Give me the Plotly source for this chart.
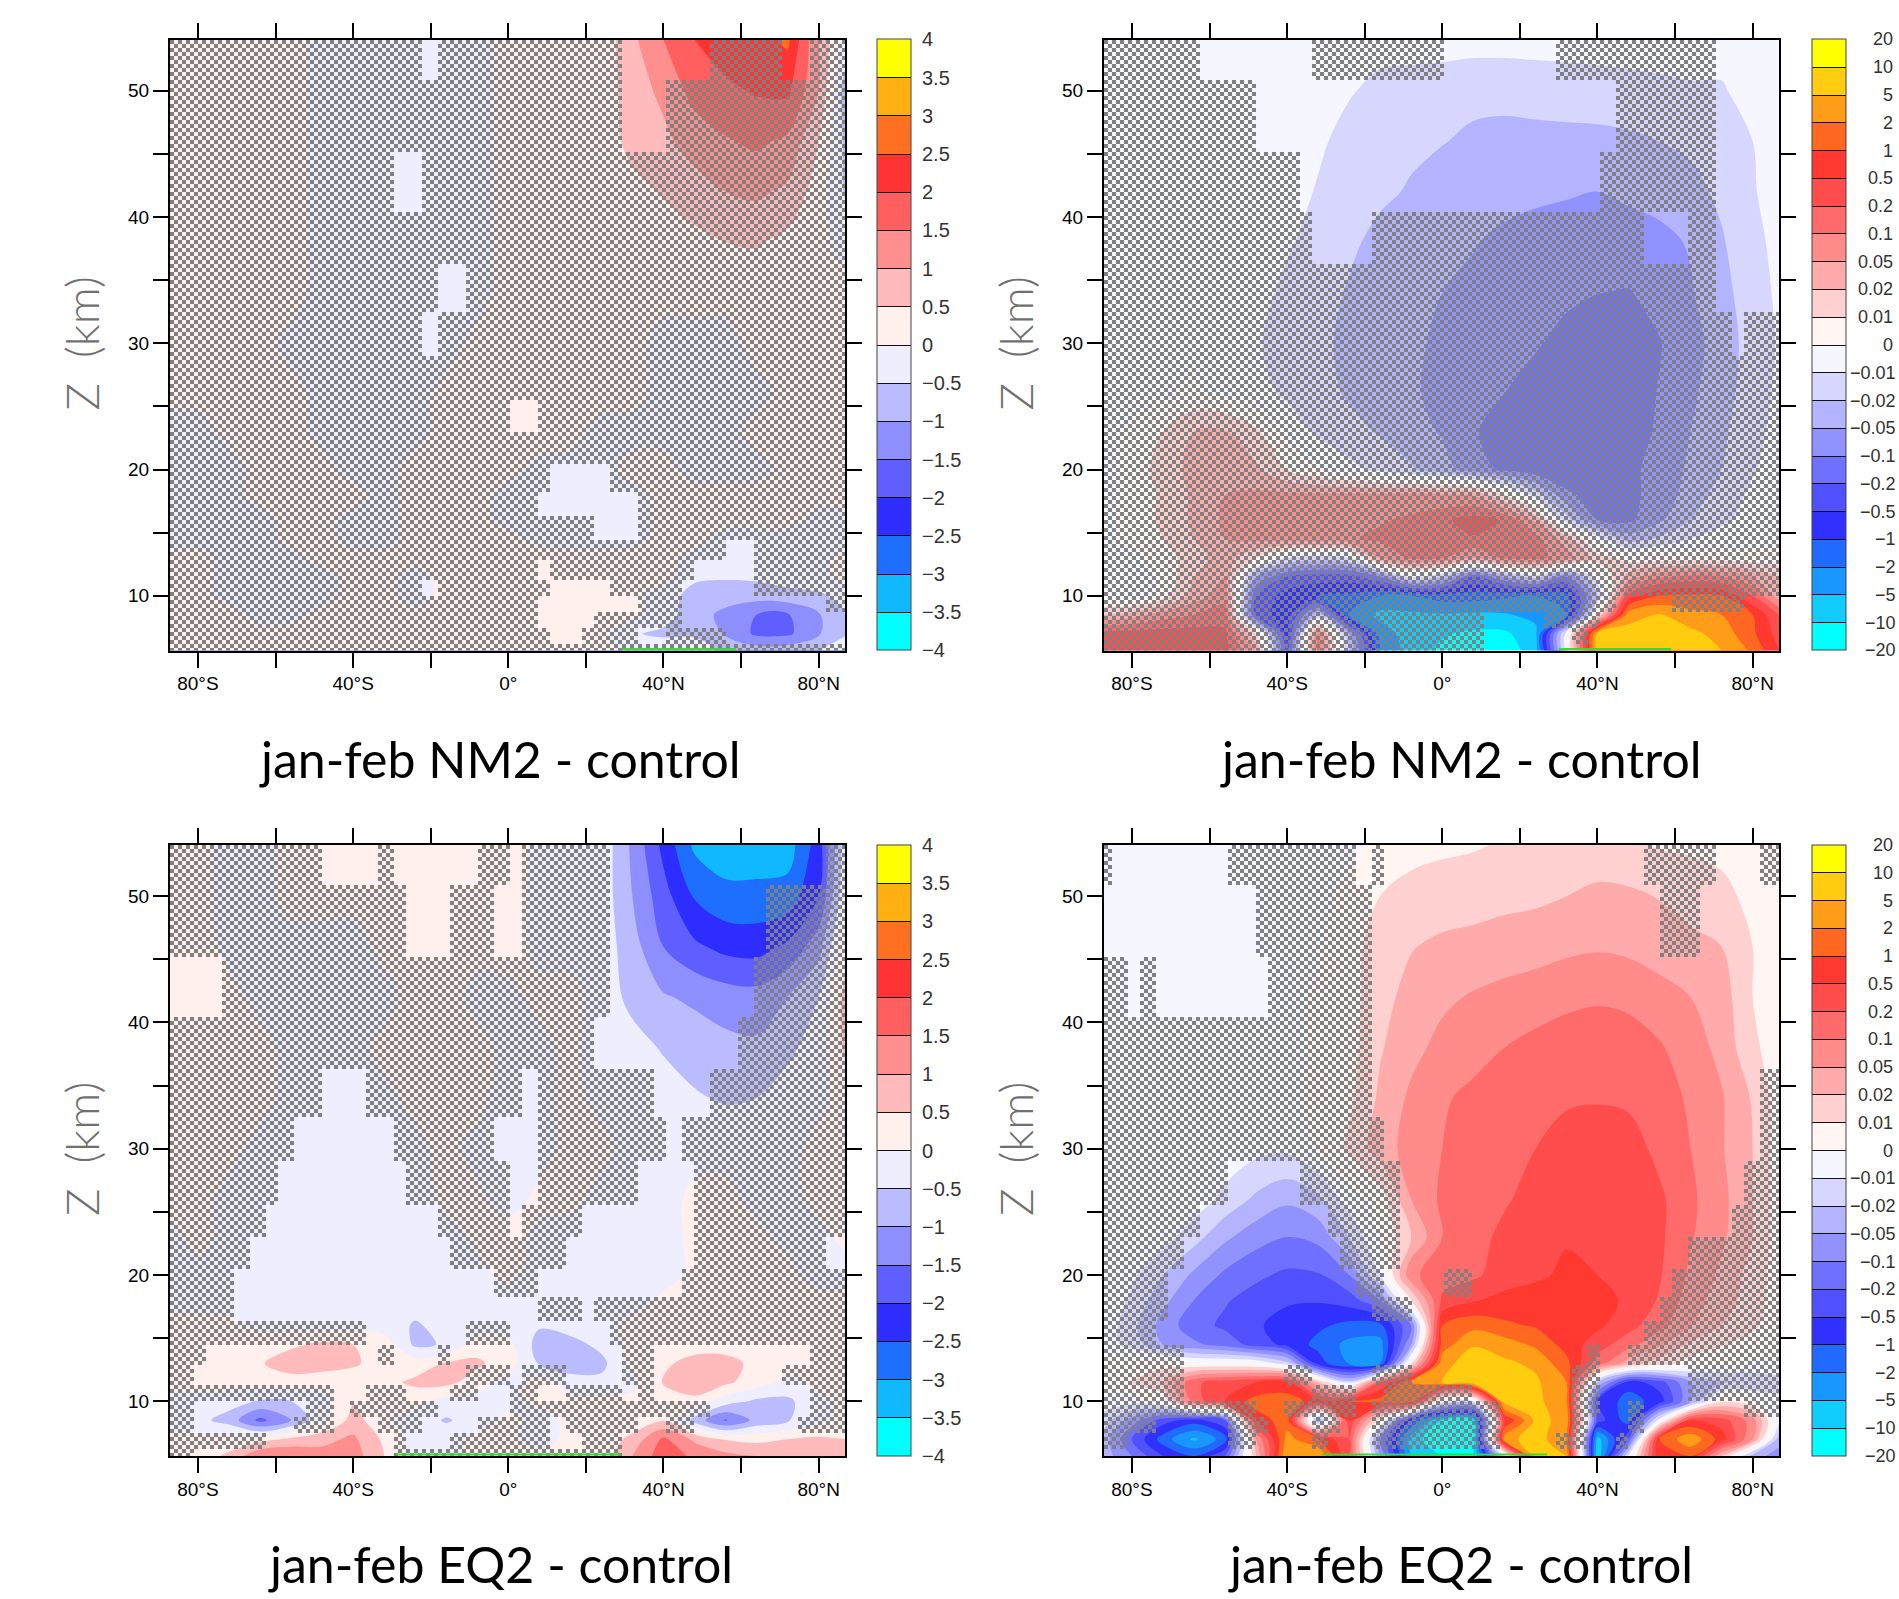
import numpy as np
import plotly.graph_objects as go

W, H = 1899, 1599
lats = [-87.2, -80, -72, -64, -56, -48, -40, -32, -24, -16, -8, 0, 8, 16, 24, 32, 40, 48, 56, 64, 72, 80, 86.8]
heights = [54.05, 50, 46, 42, 38, 34, 30, 26, 23, 20, 18, 16, 14.5, 13, 11.5, 10, 8.5, 7, 5.67]

# Fields in colour-level units (0 = zero contour, +-k = k-th labelled level), rows top to bottom
nm2_linear = [
 [.4,.4,.4,.4,.4,-.4,-.4,-.4,-.4,-.4,-.4,.4,.4,.4,.3,1.8,3.0,4.0,4.5,4.6,5.2,2.0,-.3],
 [.4,.4,.4,.4,.4,-.4,-.4,-.4,-.4,-.4,-.4,.4,.4,.4,.3,1.6,2.2,3.4,3.8,4.1,4.2,2.0,-1.5],
 [.4,.4,.4,.4,.4,-.4,-.4,-.4,-.4,-.4,-.4,.4,.4,.4,.3,1.4,1.8,2.4,2.9,3.2,2.8,1.0,-1.2],
 [.4,.4,.4,.4,.4,-.4,-.4,-.4,-.4,-.4,-.4,.4,.4,.4,.3,.6,1.1,1.6,2.0,2.2,1.8,.5,-1.1],
 [.4,.4,.4,.4,.4,-.4,-.4,-.4,-.4,-.4,-.4,.4,.4,.4,.3,.3,.4,.7,1.0,1.1,.7,.3,-.4],
 [.4,.4,.4,.4,.4,-.4,-.4,-.4,-.4,-.4,-.4,.4,.4,.4,.3,.3,.3,.3,.3,.3,.3,.3,.3],
 [.4,.4,.4,.4,-.3,-.4,-.4,-.4,-.4,-.4,.3,.4,.4,.3,.3,.3,-.3,-.3,-.3,.3,.3,.3,.3],
 [.3,.3,.3,.3,.3,-.3,-.3,-.3,-.3,.3,.3,.4,.3,.3,.3,.3,-.3,-.3,-.3,-.3,.3,.3,.3],
 [-.4,-.4,.3,.3,.3,-.3,-.3,-.3,-.3,.3,.3,.5,.5,.3,-.3,-.3,-.3,-.3,-.3,.3,.3,.3,.3],
 [-.4,-.4,-.4,.3,.3,.3,-.3,-.3,.3,.3,.3,.3,-.3,-.3,-.3,.3,.3,-.3,-.3,-.3,.3,.3,.3],
 [-.4,-.4,-.3,.3,.3,.3,.3,-.3,.3,.3,.3,-.3,-.5,-.5,-.5,-.3,.3,.3,.3,.3,.3,.3,.3],
 [-.3,-.4,-.4,-.3,.3,.3,-.3,-.3,.3,.3,.3,-.3,-.5,-.5,-.5,-.5,.3,.3,.3,.3,.3,-.3,-.3],
 [-.3,-.3,-.4,-.4,.3,.3,-.3,-.3,.3,.3,.3,.3,-.3,-.3,-.4,-.3,.3,.3,-.4,-.4,-.3,-.3,-.3],
 [.3,.3,-.3,-.3,-.3,.3,.3,.3,.3,.3,.3,.3,.5,.3,.3,.3,.3,-.3,-.5,-.5,-.3,-.3,.3],
 [.3,.3,-.3,-.3,-.3,-.3,.3,.3,-.3,.3,.3,.3,.6,.6,.3,.3,.3,-.8,-.9,-.8,-.5,-.3,.3],
 [.3,.3,-.3,-.4,-.3,-.3,.3,.3,-.4,.3,.3,.3,.6,.6,.6,.3,-.5,-1.4,-1.5,-1.6,-1.4,-1.2,-.6],
 [.3,.3,.3,-.3,-.3,.3,.3,.3,.3,.3,.3,.3,.6,.6,.3,.3,-.6,-1.5,-2.3,-3.0,-3.1,-2.1,-1.1],
 [.3,.3,.3,.3,.3,.3,.3,.3,.3,.3,.3,.3,.6,.6,.3,-.9,-1.2,-1.2,-2.1,-3.2,-3.2,-2.1,-1.1],
 [.3,.3,.3,.3,.3,.3,.3,.3,.3,.3,.3,.3,.3,.3,.3,-.3,-.3,-.3,-1.2,-1.5,-1.4,-1.0,-.5],
]
nm2_log = [
 [-.6,-.6,-.6,-.6,-.6,-.6,-.6,-.6,-.6,-.6,-.6,-.6,-.6,-.6,-.6,-.6,-.6,-.6,-.6,-.6,-.6,-.6,-.4],
 [-.5,-.5,-.5,-.5,-.5,-.5,-.5,-.6,-.9,-1.3,-1.4,-1.5,-1.7,-1.7,-1.6,-1.5,-1.4,-1.3,-1.2,-1.1,-1.1,-.6,-.4],
 [-.5,-.5,-.5,-.5,-.5,-.5,-.5,-.8,-1.4,-1.6,-1.8,-1.95,-2.2,-2.3,-2.3,-2.3,-2.3,-2.2,-2.0,-1.8,-1.4,-1.0,-.5],
 [-.5,-.5,-.5,-.5,-.5,-.5,-.5,-1.1,-1.5,-1.8,-2.1,-2.5,-2.6,-2.7,-2.8,-2.9,-3.0,-2.8,-2.6,-2.3,-1.8,-1.1,-.5],
 [-.5,-.5,-.5,-.5,-.5,-.5,-.9,-1.3,-1.8,-2.3,-2.6,-2.8,-2.95,-3.2,-3.4,-3.5,-3.6,-3.5,-3.3,-2.9,-2.1,-1.3,-.7],
 [-.3,-.3,-.3,-.3,-.4,-.7,-1.2,-1.6,-2.1,-2.5,-2.8,-3.0,-3.2,-3.4,-3.6,-3.8,-3.98,-4.05,-3.7,-3.1,-2.3,-1.5,-.8],
 [-.3,-.3,-.3,-.3,-.5,-.9,-1.4,-1.8,-2.2,-2.6,-2.9,-3.1,-3.3,-3.6,-3.9,-4.3,-4.6,-4.5,-4.05,-3.4,-2.5,-1.6,-.9],
 [-.3,-.3,-.2,.2,-.2,-.6,-1.2,-1.7,-2.1,-2.5,-2.9,-3.2,-3.6,-4.0,-4.4,-4.7,-4.8,-4.4,-3.95,-3.2,-2.4,-1.5,-.8],
 [-.3,.2,1.0,2.0,2.1,1.2,-.3,-1.2,-1.7,-2.1,-2.6,-3.1,-3.9,-4.4,-4.7,-4.8,-4.7,-4.3,-3.9,-3.0,-2.2,-1.3,-.7],
 [-.3,.3,1.5,2.3,2.6,2.2,1.0,.1,-.7,-1.3,-1.9,-2.6,-3.5,-4.2,-4.6,-4.7,-4.6,-4.2,-3.7,-2.8,-2.0,-1.1,-.5],
 [-.3,.3,1.2,2.2,3.0,3.2,3.2,3.2,3.2,3.2,3.3,3.1,2.9,1.0,-1.5,-3.8,-4.4,-4.2,-3.7,-2.5,-1.6,-.8,-.4],
 [-.3,.4,1.2,2.2,3.2,3.4,3.5,3.6,3.8,3.9,4.2,4.8,5.4,4.9,2.8,-1.5,-4.0,-4.2,-3.2,-2.0,-1.2,-.6,-.3],
 [-.3,.3,1.0,2.0,3.0,3.3,3.5,3.7,3.9,4.2,4.6,4.8,4.9,4.8,4.4,2.5,-.5,-2.5,-1.8,-1.0,-.6,-.4,-.2],
 [-.3,-.2,.5,1.6,2.5,1.0,-1.0,-1.5,-1.0,3.0,4.2,4.1,3.0,4.2,4.3,3.5,1.5,.6,.4,.5,.5,.4,.3],
 [-.3,-.5,.2,2.0,3.0,-3.0,-5.0,-5.5,-5.5,-4.0,-.8,-2.0,-5.0,-3.0,-1.5,-4.0,-.5,2.5,3.8,4.3,4.0,3.0,2.0],
 [-.3,-.8,.5,2.5,3.6,-5.0,-6.5,-7.0,-7.2,-8.0,-8.0,-7.5,-7.5,-7.8,-8.0,-7.5,-2.0,5.5,7.0,7.2,7.0,5.0,2.5],
 [2.0,2.5,3.5,4.0,4.5,-5.5,-6.5,-2.0,-8.0,-9.3,-9.2,-9.1,-9.2,-9.1,-8.7,-8.0,1.0,8.5,9.1,8.3,8.0,7.0,5.0],
 [5.5,5.5,5.5,5.5,5.2,1.0,-6.5,4.0,-3.0,-8.5,-9.5,-9.9,-10.2,-10.2,-9.3,-.5,9.2,9.5,9.4,9.3,8.6,7.2,5.6],
 [5.5,5.5,5.5,5.5,5.3,3.0,-5.5,4.5,-2.0,-8.0,-9.5,-10.2,-10.7,-10.6,-9.5,-.5,9.5,9.7,9.6,9.4,9.0,7.8,6.0],
]
eq2_linear = [
 [.4,.4,-.4,-.4,.3,.6,.6,.4,.6,.6,.5,.6,-.3,-.3,-.3,-2.2,-4.3,-6.2,-6.6,-6.6,-6.5,-4.5,-.5],
 [.4,.4,-.4,-.4,.4,.4,.3,.4,.6,.6,.5,.5,-.3,-.3,-.4,-2.0,-3.6,-5.1,-5.7,-5.7,-5.6,-4.0,-.2],
 [.5,.5,-.3,-.4,-.4,-.4,-.4,.3,.5,.5,.3,.5,-.3,-.3,-.4,-1.6,-3.0,-3.8,-4.3,-4.4,-3.8,-2.4,.6],
 [.6,.6,.3,-.3,-.4,-.4,-.4,-.4,.4,.4,-.3,-.3,.3,.3,-.4,-1.3,-1.9,-2.2,-2.5,-2.6,-2.0,-1.0,1.3],
 [.3,.3,.3,.3,-.3,-.3,-.3,.3,.3,.3,.3,-.3,-.3,.3,-.5,-.6,-1.1,-1.4,-1.7,-1.8,-1.2,-.6,1.2],
 [.3,.3,.3,.3,-.3,-.4,-.4,-.3,.3,.3,.3,-.5,-.3,.3,-.3,-.3,-.5,-.9,-1.1,-1.0,-.6,-.3,.4],
 [.3,.3,.3,-.3,-.4,-.5,-.5,-.5,-.3,.3,-.3,-.5,-.4,.3,.3,-.4,-.4,-.4,-.3,-.3,-.3,.3,.3],
 [.3,.3,-.3,-.4,-.5,-.5,-.5,-.5,-.5,.3,.2,-.5,.3,.3,-.4,-.5,-.5,.3,.3,-.3,-.3,.3,.3],
 [-.3,.3,-.3,-.5,-.5,-.5,-.5,-.5,-.5,-.5,.2,.6,-.3,-.5,-.5,-.5,-.5,.3,.3,.3,-.3,-.3,.3],
 [-.3,-.3,-.3,-.5,-.6,-.6,-.6,-.6,-.6,-.5,-.3,.3,-.4,-.5,-.5,-.5,-.5,.3,.3,.3,.3,-.4,-.5],
 [-.3,-.3,-.5,-.6,-.6,-.6,-.6,-.6,-.6,-.6,-.6,-.5,-.5,-.5,-.5,-.5,.3,.3,.3,.3,.3,.3,.3],
 [.3,.3,.3,-.3,-.3,-.4,-.4,-.5,-1.1,-.7,-.5,-.5,-.9,-.5,-.4,.3,.3,.3,.3,.3,.3,.3,.3],
 [.3,.5,.6,.6,.8,1.2,1.0,.6,-1.2,-.9,.5,.3,-1.4,-1.4,-.7,.3,.5,.5,.5,.5,.5,.3,.3],
 [.3,.5,.6,.9,1.6,1.4,1.1,.7,.5,1.1,1.2,.4,-1.1,-1.6,-1.3,.3,.8,1.4,1.4,.7,.5,.3,.3],
 [.3,.5,.5,.5,.5,.5,.6,.7,1.2,1.3,.5,-.4,.5,-.5,-.7,-.3,1.1,1.7,1.2,.5,-.3,.3,.3],
 [-.3,-.5,-.6,-1.1,-1.0,-.4,.9,.3,.4,-.4,-.5,-.3,.3,.3,.3,.3,.3,.7,-.5,-1.2,-1.2,-.3,.3],
 [-.3,-.7,-1.4,-3.3,-2.0,-.3,1.4,.3,-.5,-1.1,-.6,.3,-.4,.3,.3,.3,.9,-1.4,-3.1,-1.7,-1.1,-.3,.3],
 [.3,.3,.4,.6,1.2,1.7,2.2,.8,-.4,-.4,.3,.3,-.5,.3,.3,1.3,3.2,1.8,.9,.7,1.0,1.2,1.0],
 [.5,.5,1.2,2.9,3.0,2.4,2.5,1.0,-.5,-.5,.3,.3,.3,.3,.5,2.0,3.6,2.8,2.3,2.0,1.8,1.6,1.4],
]
eq2_log = [
 [-.5,-.5,-.5,-.5,-.5,-.5,-.3,-.3,-.3,.3,.6,.8,.9,1.1,1.2,1.2,1.2,1.15,.9,.8,.7,.6,.5],
 [-.5,-.5,-.5,-.5,-.5,-.5,-.5,-.3,.3,1.0,1.4,1.5,1.6,1.7,1.8,2.0,2.3,2.2,1.95,1.7,1.3,.7,.5],
 [-.5,-.5,-.5,-.5,-.5,-.5,-.3,-.1,.6,1.5,1.95,2.2,2.3,2.5,2.6,2.8,2.9,2.8,2.5,2.2,2.0,1.0,.5],
 [-.5,-.5,-.5,-.5,-.5,-.5,-.2,.1,.6,1.7,2.3,2.8,3.1,3.3,3.5,3.7,3.8,3.7,3.4,3.0,2.5,1.0,.5],
 [-.2,-.2,-.2,-.2,-.2,-.2,-.2,.1,.6,1.9,2.7,3.3,3.7,4.0,4.3,4.6,4.9,4.6,4.1,3.5,2.7,1.2,.5],
 [-.1,-.1,-.1,-.1,-.1,-.1,-.1,.1,.8,2.2,3.2,3.9,4.2,4.5,4.8,4.8,4.9,4.8,4.3,3.9,3.1,1.9,.5],
 [-.2,-.2,-.2,-.2,-.3,-.7,-.8,.1,1.2,2.5,3.4,4.0,4.4,4.7,5.0,5.6,5.7,5.5,4.7,4.0,3.1,2.0,.5],
 [-.2,-.2,-.2,-.4,-1.3,-2.2,-2.8,-2.2,-.5,.5,3.0,4.2,4.6,4.9,5.3,5.8,5.9,5.9,5.2,4.2,3.3,2.0,.5],
 [-.2,-.3,-.6,-1.6,-2.8,-3.6,-4.0,-3.7,-2.0,.1,2.0,4.0,4.7,5.2,5.5,5.9,5.9,5.8,5.2,4.1,3.2,2.0,.5],
 [-.2,-.8,-2.0,-3.2,-4.2,-4.8,-5.2,-5.1,-4.0,-1.0,3.8,4.5,4.8,5.5,5.8,6.2,6.0,5.8,5.1,3.8,2.8,1.6,.5],
 [-.3,-1.2,-2.7,-4.0,-4.9,-5.4,-5.9,-5.9,-5.5,-4.0,1.0,5.2,5.9,6.3,6.5,6.7,6.4,5.8,4.9,3.5,2.5,1.5,.5],
 [-.3,-1.7,-3.4,-4.6,-5.2,-5.9,-6.3,-6.8,-7.3,-7.3,-4.0,7.0,7.7,7.2,6.9,6.7,6.2,5.4,4.3,3.0,2.0,1.2,.4],
 [-.5,-1.4,-3.0,-3.8,-4.4,-5.4,-6.3,-7.3,-8.3,-8.4,-3.0,7.5,8.9,8.5,7.8,6.6,5.5,4.4,3.2,1.8,1.1,.6,.3],
 [.3,.4,.6,0.1,0.1,-.1,-1.5,-6.5,-8.1,-8.0,1.0,8.6,9.6,9.2,8.8,7.3,4.5,2.5,1.5,.5,.1,-.1,-.1],
 [.5,1.0,2.0,4.8,5.5,6.0,6.3,2.0,-1.5,5.0,8.0,9.0,9.8,9.8,9.2,8.0,-2.0,-6.5,-5.5,-3.0,-2.2,-2.0,-1.5],
 [-.5,-.6,.3,4.5,6.0,7.4,7.5,6.5,7.0,7.5,7.5,-.5,-1.0,9.5,9.3,8.2,-6.0,-7.5,-6.5,-3.0,.8,.2,-.7],
 [-1.5,-3.5,-5.5,-6.5,-5.0,6.5,7.5,-3.0,6.0,.5,-7.0,-10.0,-10.0,6.0,9.2,8.8,-5.5,-7.5,-.5,6.0,5.5,3.5,-.8],
 [-2.5,-5.0,-7.5,-9.2,-7.5,3.0,8.4,7.0,5.0,-4.0,-9.5,-10.8,-10.5,8.5,9.6,8.0,-9.5,-5.0,7.0,8.8,6.5,3.0,-2.5],
 [-2.5,-4.0,-6.0,-7.0,-5.0,2.0,9.0,9.0,5.0,-3.0,-9.0,-10.0,-10.0,-1.0,9.5,9.0,-10.0,-1.0,7.0,7.0,2.0,-2.5,-3.5],
]

# Significance mask: cells that are NOT stippled, per row (top to bottom), as inclusive column ranges
mask_row_edges_km = [54.05, 50.8, 45.2, 40.5, 36.3, 32.5, 28.9, 25.7, 22.9, 20.4, 18.3, 16.3, 14.5, 12.9, 11.4, 10.0, 8.7, 7.5, 6.3, 5.6]
mask_first_lat = -88.9
mask_lat_step = 3.707
open_nm2_linear = [
 [(18,18),(32,37),(43,44)], [(32,34)], [(16,17)], [], [(19,20)], [(18,18)], [], [(24,25)], [],
 [(27,30)], [(26,32)], [(30,32)], [(39,40)], [(26,26),(37,40)], [(18,18),(27,30),(36,40)],
 [(26,32),(36,45)], [(26,29),(36,47)], [(27,28),(33,34),(39,47)], [],
]
open_nm2_log = [
 [(7,14),(24,31),(43,47)], [(11,35),(43,47)], [(14,34),(43,47)], [(15,18),(38,40),(43,47)], [(43,47)], [(44,44)],
 [], [], [], [], [], [], [], [], [],
 [(36,39),(45,47)], [(27,30),(35,47)], [(27,32),(34,47)], [(27,47)],
]
open_eq2_linear = [
 [(11,14),(16,21),(24,24),(31,45)], [(17,19),(23,24),(31,41)], [(0,3),(31,40)], [(30,39)],
 [(11,13),(25,25),(34,37)], [(9,15),(23,25),(35,35)], [(8,16),(24,25),(33,36)], [(7,18),(24,24),(29,36)],
 [(6,19),(28,36),(46,47)], [(5,22),(26,35)], [(5,25),(29,29)], [(14,20),(24,30)],
 [(3,14),(16,18),(20,31),(34,44)], [(2,20),(24,24),(28,31),(34,42)],
 [(12,13),(17,19),(22,23),(26,27),(32,32),(34,44)], [(2,9),(12,12),(19,23),(38,44)],
 [(2,8),(12,14),(18,21),(27,27),(33,34),(37,43)], [(7,15),(17,19),(27,28),(32,47)], [(2,15),(32,47)],
]
open_eq2_log = [
 [(1,8),(18,18),(20,37),(43,45)], [(0,10),(19,38),(42,47)], [(2,2),(4,11),(19,47)], [(19,47)], [(19,45)], [(20,45)],
 [(9,13),(21,44)], [(7,15),(21,43)], [(6,16),(21,40)], [(5,17),(20,23),(26,39)], [(5,18),(22,38)], [(4,37)],
 [(6,21),(22,33),(35,36)], [(6,12),(15,18),(22,32),(35,40)], [(6,14),(18,19),(26,32),(35,40)],
 [(11,12),(18,18),(28,32),(35,36),(38,44)],
 [(4,8),(12,14),(17,18),(28,32),(34,36),(38,47)],
 [(2,8),(11,14),(16,18),(28,31),(34,35),(37,47)], [(0,47)],
]

linear_colors = ["#00FFFF","#10B8FF","#1E6EFF","#2D2DFF","#5F5FFF","#8E8EFF","#BBBBFF","#EEEEFF",
                 "#FFF0EE","#FFBBBB","#FF8E8E","#FF5F5F","#FF3333","#FF7020","#FFB010","#FFFF00"]
log_colors = ["#00FFFF","#10CCFF","#1898FF","#206AFF","#3030FF","#5050FF","#7070FF","#9292FF","#B3B3FF","#D6D6FF","#F5F6FF",
              "#FFF5F2","#FFD0D0","#FFABAB","#FF8B8B","#FF6B6B","#FF4D4D","#FF3830","#FF6820","#FF9C18","#FFCC10","#FFFF00"]
linear_labels = ["\u22124","\u22123.5","\u22123","\u22122.5","\u22122","\u22121.5","\u22121","\u22120.5","0",
                 "0.5","1","1.5","2","2.5","3","3.5","4"]
log_labels = ["\u221220","\u221210","\u22125","\u22122","\u22121","\u22120.5","\u22120.2","\u22120.1","\u22120.05","\u22120.02","\u22120.01","0",
              "0.01","0.02","0.05","0.1","0.2","0.5","1","2","5","10","20"]
x_ticks = [-80, -60, -40, -20, 0, 20, 40, 60, 80]
x_labels = ["80°S", "", "40°S", "", "0°", "", "40°N", "", "80°N"]
y_ticks = [10, 15, 20, 25, 30, 35, 40, 45, 50]
y_labels = ["10", "", "20", "", "30", "", "40", "", "50"]
titles = ["jan-feb NM2 - control", "jan-feb NM2 - control", "jan-feb EQ2 - control", "jan-feb EQ2 - control"]
green_spans = [(29.3, 58.8), (30, 59), (-29, 29), (-31, 27)]

XR = [-87.2, 86.8]
YR = [5.67, 54.05]
panels = [
    dict(px=(170, 845), py=(39.5, 650.5), cb=877, title_x=500, z=nm2_linear, o=open_nm2_linear, colors=linear_colors, labels=linear_labels),
    dict(px=(1104, 1779), py=(39.5, 650.5), cb=1812, title_x=1461, z=nm2_log, o=open_nm2_log, colors=log_colors, labels=log_labels),
    dict(px=(170, 845), py=(845, 1456), cb=877, title_x=500, z=eq2_linear, o=open_eq2_linear, colors=linear_colors, labels=linear_labels),
    dict(px=(1104, 1779), py=(845, 1456), cb=1812, title_x=1460, z=eq2_log, o=open_eq2_log, colors=log_colors, labels=log_labels),
]


def contour_scale(colors):
    # contour fills look colours up on [-K-.5, K+.5]
    K = len(colors) // 2
    span = 2 * K + 1
    stops = []
    for i, c in enumerate(colors):
        lo = 0 if i == 0 else (i + 0.5) / span
        hi = 1 if i == len(colors) - 1 else (i + 1.5) / span
        stops += [[lo, c], [hi, c]]
    return stops


def bar_scale(colors):
    n = len(colors)
    stops = []
    for i, c in enumerate(colors):
        stops += [[i / n, c], [(i + 1) / n, c]]
    return stops


def stipple(open_rows):
    dx = (XR[1] - XR[0]) / 675 * 4
    dy = (YR[1] - YR[0]) / 611 * 4
    nx, ny = 169, 153
    xc = XR[0] + dx * (np.arange(nx) + .5)
    yc = YR[1] - dy * (np.arange(ny) + .5)
    closed = np.ones((19, 48), bool)
    for r, spans in enumerate(open_rows):
        for a, b in spans:
            closed[r, a:b + 1] = False
    edges = -np.array(mask_row_edges_km)
    rows = np.clip(np.searchsorted(edges, -yc) - 1, 0, 18)
    cols = np.clip(((xc - mask_first_lat) / mask_lat_step).astype(int), 0, 47)
    z = [[None] * nx for _ in range(ny)]
    for j in range(ny):
        for i in range(nx):
            if (i + j) % 2 == 0 and closed[rows[j], cols[i]]:
                z[j][i] = 1
    return xc.tolist(), yc.tolist(), z


fig = go.Figure()
annotations = []
layout = {}
for n, p in enumerate(panels):
    s = "" if n == 0 else str(n + 1)
    o = str(n + 5)  # overlay axes so the stipple sits above the contour fill
    K = len(p["colors"]) // 2
    levels = list(range(-K, K + 1))
    fig.add_trace(go.Contour(
        x=lats, y=heights, z=p["z"], xaxis="x" + s, yaxis="y" + s, hoverinfo="skip",
        colorscale=contour_scale(p["colors"]), autocontour=False, showscale=False,
        contours=dict(start=-K, end=K, size=1, coloring="fill", showlines=False),
        line=dict(width=0),
    ))
    xc, yc, mz = stipple(p["o"])
    fig.add_trace(go.Heatmap(
        x=xc, y=yc, z=mz, xaxis="x" + o, yaxis="y" + o, showscale=False, hoverinfo="skip", zmin=0, zmax=1,
        colorscale=[[0, "#808080"], [1, "#808080"]],
    ))
    # colour bar trace: holds the labelled levels, sits outside the visible range
    fig.add_trace(go.Heatmap(
        x=[1000 + v for v in levels], y=[1000, 1001], z=[levels, levels], xaxis="x" + o, yaxis="y" + o,
        hoverinfo="skip", zmin=-K, zmax=K, colorscale=bar_scale(p["colors"]),
        colorbar=dict(
            x=p["cb"] / W, xanchor="left", xpad=0, ypad=0,
            y=1 - p["py"][0] / H, yanchor="top", len=611, lenmode="pixels",
            thickness=34, thicknessmode="pixels", outlinecolor="#444444", outlinewidth=1,
            tickmode="array", tickvals=levels, ticktext=p["labels"],
            ticks="inside", ticklen=34, tickcolor="#111111", tickwidth=1, showticklabels=False,
        ),
    ))
    g = green_spans[n]
    fig.add_trace(go.Scatter(x=list(g), y=[5.78, 5.78], mode="lines", line=dict(color="#30E030", width=2),
                             xaxis="x" + o, yaxis="y" + o, showlegend=False, hoverinfo="skip"))
    common = dict(showgrid=False, zeroline=False, showline=True, linecolor="black", linewidth=2, mirror="ticks",
                  ticks="outside", ticklen=15, tickwidth=2, tickcolor="black",
                  tickfont=dict(family="Liberation Sans", size=19, color="black"), tickmode="array")
    xdom = [p["px"][0] / W, p["px"][1] / W]
    ydom = [1 - p["py"][1] / H, 1 - p["py"][0] / H]
    layout["xaxis" + s] = dict(domain=xdom, range=XR, tickvals=x_ticks, ticktext=x_labels, anchor="y" + s, **common)
    layout["yaxis" + s] = dict(domain=ydom, range=YR, tickvals=y_ticks, ticktext=y_labels, anchor="x" + s, **common)
    layout["xaxis" + o] = dict(domain=xdom, range=XR, overlaying="x" + s, anchor="y" + o, visible=False)
    layout["yaxis" + o] = dict(domain=ydom, range=YR, overlaying="y" + s, anchor="x" + o, visible=False)
    annotations.append(dict(text=titles[n], x=p["title_x"] / W, y=1 - (p["py"][1] + 108) / H, xref="paper", yref="paper",
                            showarrow=False, xanchor="center", yanchor="middle",
                            font=dict(family="Lato", size=50, color="black")))
    annotations.append(dict(text="Z  (km)", x=(p["px"][0] - 89) / W, y=1 - (p["py"][0] + 304) / H, xref="paper", yref="paper",
                            showarrow=False, textangle=-90, xanchor="center", yanchor="middle",
                            font=dict(family="Lato", size=46, weight=300, color="#707070")))
    for lv, t in zip(levels, p["labels"]):
        py = p["py"][1] - (lv + K) * 611 / (2 * K)
        if K == 8:
            annotations.append(dict(text=t, x=920 / W, y=1 - py / H, xref="paper", yref="paper", showarrow=False,
                                    xanchor="left", yanchor="middle",
                                    font=dict(family="Liberation Sans", size=20, color="#333333")))
        else:
            annotations.append(dict(text=t, x=(1898 if lv < 0 else 1895) / W, y=1 - py / H, xref="paper", yref="paper",
                                    showarrow=False, xanchor="right", yanchor="middle",
                                    font=dict(family="Liberation Sans", size=18, color="#333333")))

fig.update_layout(width=W, height=H, autosize=False, paper_bgcolor="white", plot_bgcolor="white",
                  margin=dict(l=0, r=0, t=0, b=0, pad=0, autoexpand=False), showlegend=False,
                  annotations=annotations, **layout)
fig.write_html("out.html", config={"displayModeBar": False},
               post_script="document.body.style.margin='0';document.body.style.overflow='hidden';")
